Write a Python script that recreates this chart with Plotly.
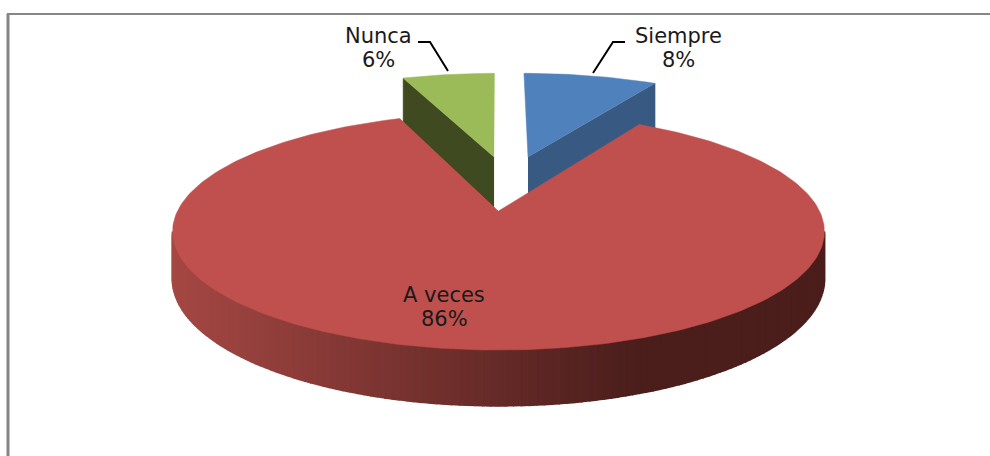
import numpy as np
import plotly.graph_objects as go

categories = ['Siempre', 'A veces', 'Nunca']
values = [8.4, 85.8, 5.8]  # percent, shown rounded on the labels
top_colors = ['#4F81BD', '#C0504D', '#9BBB59']
wall_colors = ['#385A82', '#8C3A38', '#3F4A20']

# fake camera, works in pixels since the axes below are pixel sized
cx = 498.5
cy = 211
kx = 321
ky = 115
kz = 46
persp = 0.173

# how far each slice is pulled out from the middle (flat disc units)
offsets = [(0.1, 0.51), (0.0, 0.0), (-0.015, 0.51)]


def project(x, y, z=0):
    d = 1 + persp * y
    return cx + kx * x / d, cy - ky * y / d + kz * z / d


def add_poly(fig, xs, ys, color, width=0.5):
    fig.add_trace(go.Scatter(x=xs, y=ys, mode='lines', fill='toself', fillcolor=color,
                             line=dict(color=color, width=width), hoverinfo='skip', showlegend=False))


def side_color(px):
    # the rim goes from a soft red on the left to almost black at the right
    t = min(max((px - 175) / (635 - 175), 0), 1)
    r = 165 + (75 - 165) * t
    g = 72 + (30 - 72) * t
    b = 68 + (28 - 68) * t
    return 'rgb(%d,%d,%d)' % (r, g, b)


angles = np.cumsum([0] + values) / sum(values) * 2 * np.pi

fig = go.Figure()

# walls and tops of the two pulled out slices
for i in [2, 0]:
    ox, oy = offsets[i]
    t = np.linspace(angles[i], angles[i + 1], 30)
    ex = ox + np.sin(t)
    ey = oy + np.cos(t)
    if i == 0:
        edge = (ex[-1], ey[-1])
    else:
        edge = (ex[0], ey[0])
    wx, wy = [], []
    # a bit deeper than the rim, the big slice covers the lower edge anyway
    for p, z in [((ox, oy), 0), (edge, 0), (edge, 1.2), ((ox, oy), 1.2)]:
        a, b = project(p[0], p[1], z)
        wx.append(a)
        wy.append(b)
    add_poly(fig, wx, wy, wall_colors[i])
    tx, ty = project(np.r_[ox, ex], np.r_[oy, ey])
    add_poly(fig, list(tx), list(ty), top_colors[i])

# rim of the big slice, cut in thin strips for the gradient
t = np.linspace(np.radians(100), np.radians(260), 141)
for a0, a1 in zip(t[:-1], t[1:]):
    x0, y0 = np.sin(a0), np.cos(a0)
    x1, y1 = np.sin(a1), np.cos(a1)
    p = [project(x0, y0, 0), project(x1, y1, 0), project(x1, y1, 1), project(x0, y0, 1)]
    add_poly(fig, [q[0] for q in p], [q[1] for q in p], side_color((p[0][0] + p[1][0]) / 2), width=2)

# top of the big slice
t = np.linspace(angles[1], angles[2], 300)
tx, ty = project(np.r_[0, np.sin(t)], np.r_[0, np.cos(t)])
add_poly(fig, list(tx), list(ty), top_colors[1])

pct = [str(int(round(v))) + '%' for v in values]
label_x = [678, 444, 378]
name_y = [36, 295, 36]
pct_y = [60, 319, 60]
for name, p, x, y0, y1 in zip(categories, pct, label_x, name_y, pct_y):
    fig.add_annotation(x=x, y=y0, text=name, showarrow=False,
                       font=dict(family='DejaVu Sans', size=21, color='#1a1a1a'))
    fig.add_annotation(x=x, y=y1, text=p, showarrow=False,
                       font=dict(family='DejaVu Sans', size=21, color='#1a1a1a'))

# leader lines
fig.add_trace(go.Scatter(x=[625, 613, 593], y=[42, 42, 73], mode='lines', hoverinfo='skip', showlegend=False,
                         line=dict(color='black', width=2)))
fig.add_trace(go.Scatter(x=[418, 430, 448], y=[42, 42, 71], mode='lines', hoverinfo='skip', showlegend=False,
                         line=dict(color='black', width=2)))

# only top and left of the chart frame are visible
fig.add_shape(type='line', x0=8, x1=8, y0=14, y1=456, line=dict(color='#868686', width=3))
fig.add_shape(type='line', x0=7, x1=990, y0=14, y1=14, line=dict(color='#868686', width=2))

fig.update_layout(width=990, height=456, margin=dict(l=0, r=0, t=0, b=0),
                  paper_bgcolor='white', plot_bgcolor='white', showlegend=False,
                  xaxis=dict(range=[0, 990], visible=False),
                  yaxis=dict(range=[456, 0], visible=False))
# page margin would push everything 8px down and right
fig.write_html("out.html", config={'displayModeBar': False},
               post_script="document.body.style.margin='0';")
